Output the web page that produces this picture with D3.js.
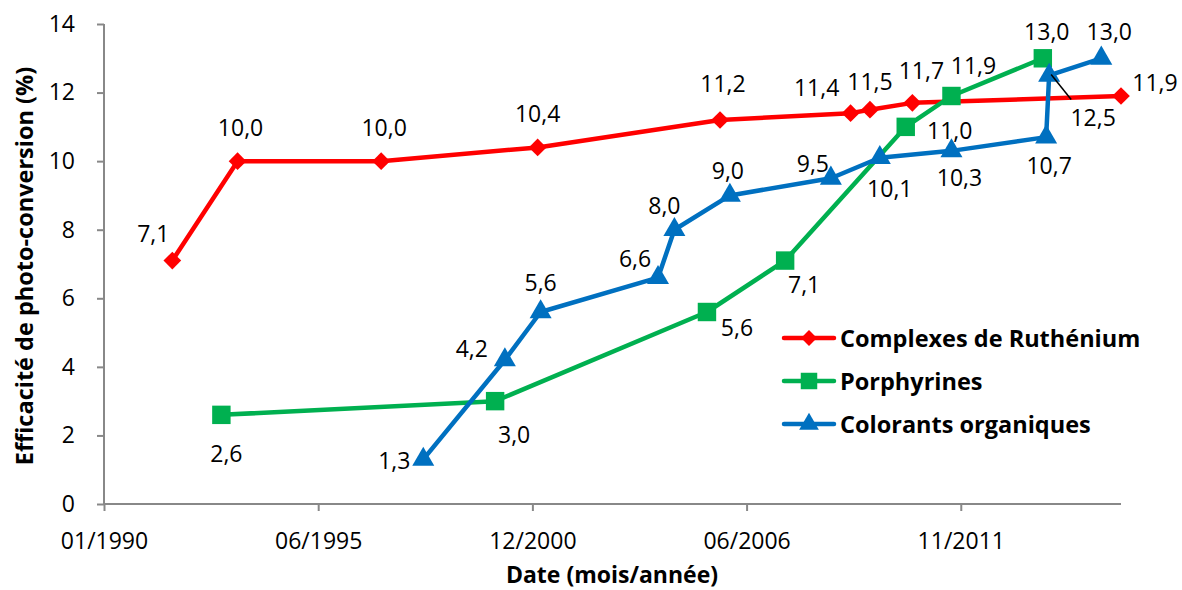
<!DOCTYPE html>
<html>
<head>
<meta charset="utf-8">
<script src="https://cdn.jsdelivr.net/npm/d3@7"></script>
<style>
  body { margin: 0; background: #fff; }
  text { font-family: "Open Sans", Lato, sans-serif; fill: #000; }
</style>
</head>
<body>
<div id="chart"></div>
<script>
// Data (dates as month strings, values in %)
const rutheniumDates = ["1991-10", "1993-06", "1997-02", "2001-02", "2005-10", "2009-02", "2009-08", "2010-09", "2016-01"];
const rutheniumValues = [7.1, 10.0, 10.0, 10.4, 11.2, 11.4, 11.5, 11.7, 11.9];

const porphyrinDates = ["1993-01", "2000-01", "2005-06", "2007-06", "2010-07", "2011-09", "2014-01"];
const porphyrinValues = [2.6, 3.0, 5.6, 7.1, 11.0, 11.9, 13.0];

const organicDates = ["1998-03", "2000-04", "2001-03", "2004-03", "2004-08", "2006-01", "2008-08", "2009-11", "2011-09", "2014-02", "2014-03", "2015-07"];
const organicValues = [1.3, 4.2, 5.6, 6.6, 8.0, 9.0, 9.5, 10.1, 10.3, 10.7, 12.5, 13.0];

const seriesNames = ["Complexes de Ruthénium", "Porphyrines", "Colorants organiques"];
const yTicks = [0, 2, 4, 6, 8, 10, 12, 14];
const xTickDates = ["1990-01-01", "1995-06-24", "2000-12-14", "2006-06-06", "2011-11-27"];
const xTickLabels = ["01/1990", "06/1995", "12/2000", "06/2006", "11/2011"];

// label offsets (dx, dy) for each data label
const rutheniumLabelOffsets = [[-19, -28], [3, -34], [3, -34], [0, -34], [3, -37], [-34, -26], [0, -29], [9, -33], [34, -14]];
const porphyrinLabelOffsets = [[5, 38], [19, 33], [30, 15], [19, 23], [44, 3], [22, -31], [4, -27]];
const organicLabelOffsets = [[-29, 1], [-33, -12], [0, -30], [-23, -20], [-10, -25], [-2, -25], [-18, -15], [10, 30], [8, 26], [3, 28], [44, 42], [8, -27]];

const width = 1182;
const height = 590;
const margin = { top: 24, right: 61, bottom: 86, left: 104 };

const parseMonth = d3.timeParse("%Y-%m");
const parseDay = d3.timeParse("%Y-%m-%d");

const series = [
  { name: seriesNames[0], color: "#FF0000", symbol: d3.symbolDiamond2, size: 200,
    data: rutheniumDates.map((d, i) => ({ date: parseMonth(d), value: rutheniumValues[i], off: rutheniumLabelOffsets[i] })) },
  { name: seriesNames[1], color: "#00B050", symbol: d3.symbolSquare, size: 340,
    data: porphyrinDates.map((d, i) => ({ date: parseMonth(d), value: porphyrinValues[i], off: porphyrinLabelOffsets[i] })) },
  { name: seriesNames[2], color: "#0070C0", symbol: d3.symbolTriangle, size: 210,
    data: organicDates.map((d, i) => ({ date: parseMonth(d), value: organicValues[i], off: organicLabelOffsets[i] })) }
];

// Scales
const xScale = d3.scaleTime()
    .domain([parseDay("1990-01-01"), parseDay("2016-01-01")])
    .range([margin.left, width - margin.right]);

const yScale = d3.scaleLinear()
    .domain([0, 14])
    .range([height - margin.bottom, margin.top]);

const svg = d3.select("#chart")
    .append("svg")
    .attr("width", width)
    .attr("height", height);

// X axis
const xAxis = svg.append("g")
    .attr("transform", `translate(0, ${height - margin.bottom})`)
    .call(d3.axisBottom(xScale)
      .tickValues(xTickDates.map(parseDay))
      .tickFormat((d, i) => xTickLabels[i])
      .tickSize(7)
      .tickPadding(22));
xAxis.selectAll("text").style("font-size", "23px").style("font-family", "'Open Sans', sans-serif");

// Y axis
const yAxis = svg.append("g")
    .attr("transform", `translate(${margin.left}, 0)`)
    .call(d3.axisLeft(yScale)
      .tickValues(yTicks)
      .tickFormat(d3.format("d"))
      .tickSize(7)
      .tickPadding(22));
yAxis.selectAll("text").style("font-size", "23px").style("font-family", "'Open Sans', sans-serif");

svg.selectAll(".tick line")
    .attr("stroke", "#888")
    .attr("stroke-width", 2);

// plain axis lines (no end caps)
xAxis.select(".domain").remove();
yAxis.select(".domain").remove();
svg.append("line")
    .attr("x1", margin.left).attr("x2", width - margin.right)
    .attr("y1", yScale(0)).attr("y2", yScale(0))
    .attr("stroke", "#888").attr("stroke-width", 2);
svg.append("line")
    .attr("x1", margin.left).attr("x2", margin.left)
    .attr("y1", yScale(0)).attr("y2", yScale(14))
    .attr("stroke", "#888").attr("stroke-width", 2);

// Axis titles
svg.append("text")
    .attr("x", 612)
    .attr("y", 574)
    .attr("text-anchor", "middle")
    .attr("dominant-baseline", "central")
    .style("font-size", "23px")
    .style("font-weight", "bold")
    .text("Date (mois/année)");

svg.append("text")
    .attr("transform", `translate(24, 266) rotate(-90)`)
    .attr("text-anchor", "middle")
    .attr("dominant-baseline", "central")
    .style("font-size", "23.5px")
    .style("font-weight", "bold")
    .text("Efficacité de photo-conversion (%)");

// Lines
const line = d3.line()
    .x(d => xScale(d.date))
    .y(d => yScale(d.value));

series.forEach(s => {
  svg.append("path")
      .datum(s.data)
      .attr("fill", "none")
      .attr("stroke", s.color)
      .attr("stroke-width", 4.5)
      .attr("stroke-linejoin", "round")
      .attr("d", line);
});

// Markers
series.forEach(s => {
  svg.selectAll(null)
      .data(s.data)
      .enter()
      .append("path")
      .attr("transform", d => `translate(${xScale(d.date)}, ${yScale(d.value)})`)
      .attr("d", d3.symbol().type(s.symbol).size(s.size))
      .attr("fill", s.color);
});

// Leader line for 12,5
const leaderPt = series[2].data[10];
svg.append("line")
    .attr("x1", xScale(leaderPt.date) + 2).attr("y1", yScale(leaderPt.value) - 1)
    .attr("x2", xScale(leaderPt.date) + 22).attr("y2", yScale(leaderPt.value) + 24)
    .attr("stroke", "#000").attr("stroke-width", 1.5);

// Data labels
const fmt = v => d3.format(".1f")(v).replace(".", ",");
series.forEach(s => {
  svg.selectAll(null)
      .data(s.data)
      .enter()
      .append("text")
      .attr("x", d => xScale(d.date) + d.off[0])
      .attr("y", d => yScale(d.value) + d.off[1])
      .attr("text-anchor", "middle")
      .attr("dominant-baseline", "central")
      .style("font-size", "23px")
      .text(d => fmt(d.value));
});

// Legend
const legend = svg.append("g").attr("transform", "translate(782, 338)");
series.forEach((s, i) => {
  const g = legend.append("g").attr("transform", `translate(0, ${i * 43})`);
  g.append("line")
      .attr("x1", 2).attr("x2", 52)
      .attr("stroke", s.color).attr("stroke-width", 4.5).attr("stroke-linecap", "round");
  g.append("path")
      .attr("transform", "translate(27, 0)")
      .attr("d", d3.symbol().type(s.symbol).size(s.size * 0.8))
      .attr("fill", s.color);
  g.append("text")
      .attr("x", 58)
      .attr("y", 0)
      .attr("dominant-baseline", "central")
      .style("font-size", "23.5px")
      .style("font-weight", "bold")
      .text(s.name);
});
</script>
</body>
</html>
